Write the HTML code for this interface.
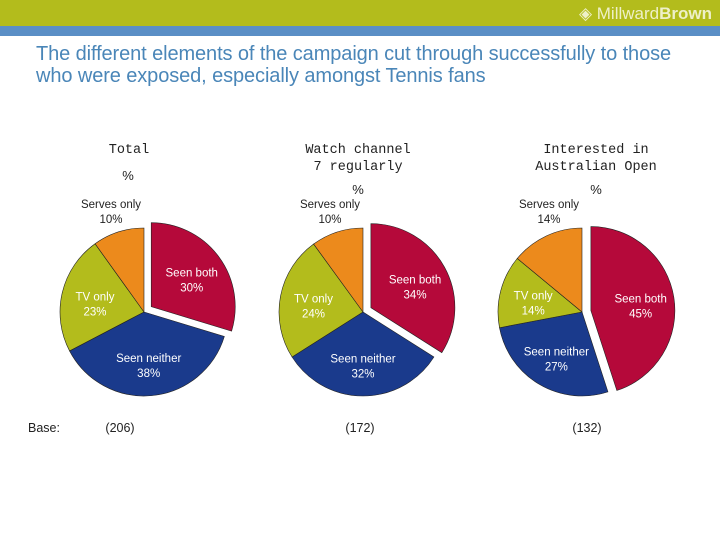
<!DOCTYPE html>
<html><head><meta charset="utf-8"><style>
body{margin:0;width:720px;height:540px;overflow:hidden;background:#fff;font-family:"Liberation Sans",sans-serif}
.hdr{position:absolute;left:0;top:0;width:720px;height:26px;background:#b3bc1c}
.strip{position:absolute;left:0;top:26px;width:720px;height:10px;background:#5a8fc6}
.logo{position:absolute;right:8px;top:4px;color:#eef0c8;font-size:17px}
.title{position:absolute;left:36px;top:43px;color:#4a86b8;font-size:20px;line-height:22px;letter-spacing:-0.1px}
</style></head><body>
<div class="hdr"></div>
<div class="strip"></div>
<div class="logo">◈ Millward<b>Brown</b></div>
<div class="title">The different elements of the campaign cut through successfully to those<br>who were exposed, especially amongst Tennis fans</div>
<svg id="c" width="720" height="540" style="position:absolute;left:0;top:0"></svg>
<script>
const panels=["Total","Watch channel\n7 regularly","Interested in\nAustralian Open"];
const bases=["(206)","(172)","(132)"];
const seenBoth=[30,34,45];
const seenNeither=[38,32,27];
const tvOnly=[23,24,14];
const servesOnly=[10,10,14];
const cats=["Seen both","Seen neither","TV only","Serves only"];
const colors=["#b5093a","#1a3a8c","#b3bc1c","#ec8a1c"];
const cx=[144,363,582],cy=312,R=84;
const svg=document.getElementById('c');
const NS="http://www.w3.org/2000/svg";
function txt(x,y,s,size,fill,anchor){const t=document.createElementNS(NS,'text');t.setAttribute('x',x);t.setAttribute('y',y);t.setAttribute('font-size',size);t.setAttribute('fill',fill);t.setAttribute('text-anchor',anchor||'middle');t.setAttribute('font-family','"Liberation Sans",sans-serif');t.textContent=s;svg.appendChild(t);return t;}
const hdrX=[129,358,596];
for(let p=0;p<3;p++){
  const vals=[seenBoth[p],seenNeither[p],tvOnly[p],servesOnly[p]];
  const tot=vals.reduce((a,b)=>a+b,0);
  let a0=-Math.PI/2;
  panels[p].split("\n").forEach((l,i)=>{const t=txt(hdrX[p],153+i*17,l,14,'#222');t.setAttribute('font-family','"Liberation Mono",monospace');t.setAttribute('font-size',13.5);
  });
  for(let i=0;i<4;i++){
    const a1=a0+vals[i]/tot*2*Math.PI;
    const mid=(a0+a1)/2;
    const off=i==0?9:0;
    const ox=cx[p]+off*Math.cos(mid),oy=cy+off*Math.sin(mid);
    const large=(a1-a0)>Math.PI?1:0;
    const d=`M${ox},${oy} L${ox+R*Math.cos(a0)},${oy+R*Math.sin(a0)} A${R},${R} 0 ${large} 1 ${ox+R*Math.cos(a1)},${oy+R*Math.sin(a1)} Z`;
    const path=document.createElementNS(NS,'path');
    path.setAttribute('d',d);path.setAttribute('fill',colors[i]);path.setAttribute('stroke','#222');path.setAttribute('stroke-width','0.6');
    
    
    svg.appendChild(path);
    const lr=i==3?R+35:R*0.6;
    let lx=ox+lr*Math.cos(mid),ly=oy+lr*Math.sin(mid);
    if(i==3){lx=cx[p]-33;ly=cy-104;}
    const col=i==3?'#222':'#fff';
    txt(lx,ly,cats[i],11.5,col);
    txt(lx,ly+15,vals[i]+'%',11.5,col);
    a0=a1;
  }
}
const pct=[[128,180],[358,194],[596,194]];
pct.forEach(q=>{const t=txt(q[0],q[1],'%',13,'#222');});
const bt=txt(28,432,'Base:',12.5,'#222','start');
[120,360,587].forEach((x,i)=>{const t=txt(x,432,bases[i],12.5,'#222');});
</script>
</body></html>
